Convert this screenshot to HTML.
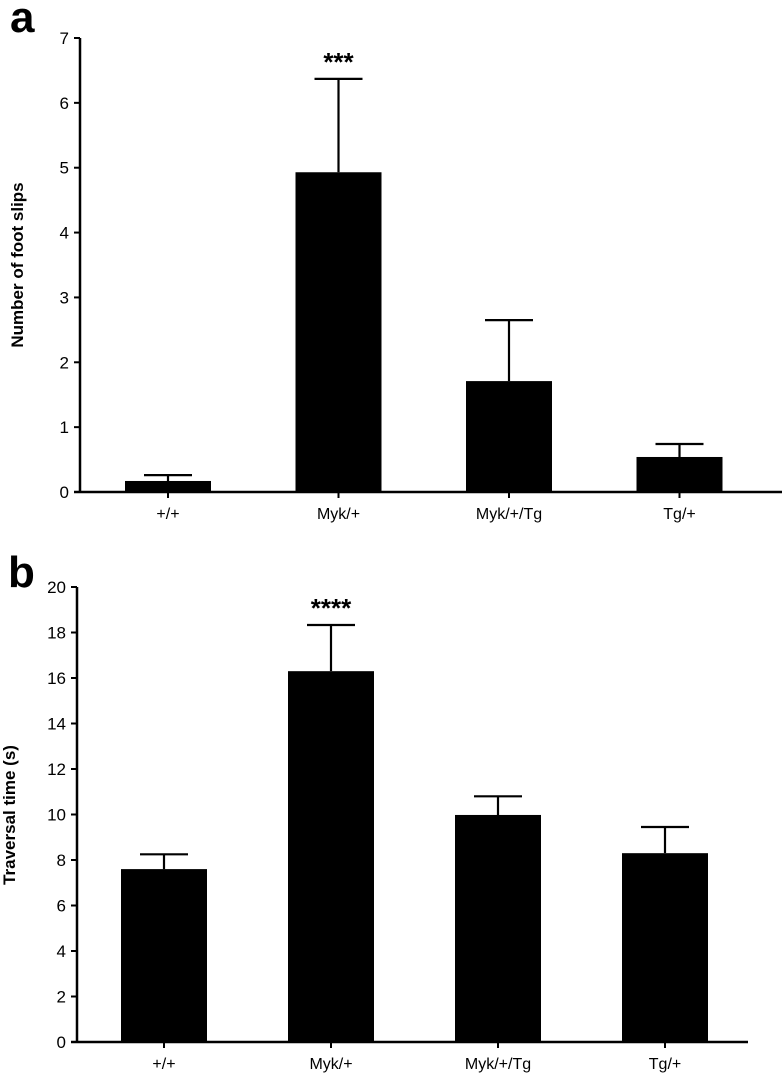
<!DOCTYPE html>
<html><head><meta charset="utf-8"><style>
html,body{margin:0;padding:0;background:#fff;}
svg{display:block;font-family:"Liberation Sans",Arial,sans-serif;}
</style></head><body>
<svg id="fig" width="782" height="1076" viewBox="0 0 782 1076">
<text x="10" y="32" font-size="44" font-weight="bold">a</text>
<text x="8" y="587" font-size="44" font-weight="bold">b</text>
<text transform="translate(23,265) rotate(-90)" text-anchor="middle" font-size="17" font-weight="bold">Number of foot slips</text>
<text transform="translate(15,815) rotate(-90)" text-anchor="middle" font-size="17" font-weight="bold">Traversal time (s)</text>
</svg>
<script>
const categories = ["+/+", "Myk/+", "Myk/+/Tg", "Tg/+"];
const slipsMean = [0.17, 4.93, 1.71, 0.54];
const slipsErr = [0.09, 1.44, 0.94, 0.20];
const slipsTicks = [0,1,2,3,4,5,6,7];
const slipsStars = ["", "***", "", ""];
const timeMean = [7.6, 16.3, 9.98, 8.3];
const timeErr = [0.65, 2.03, 0.82, 1.15];
const timeTicks = [0,2,4,6,8,10,12,14,16,18,20];
const timeStars = ["", "****", "", ""];

const NS = "http://www.w3.org/2000/svg";
const svg = document.getElementById("fig");
function mk(tag, attrs, parent){
  const e = document.createElementNS(NS, tag);
  for (const k in attrs) e.setAttribute(k, attrs[k]);
  (parent||svg).appendChild(e); return e;
}
function panel(p, mean, err, ticks, stars, id){
  const g = mk("g", {});
  
  
  const yMax = ticks[ticks.length-1];
  const y = v => p.y0 - (v / yMax) * (p.y0 - p.yTop);
  const x = i => p.c0 + i * p.step;
  const ax = mk("line", {x1:p.ax, y1:p.yTop, x2:p.ax, y2:p.y0+1, stroke:"#000", "stroke-width":2.5}, g);
  
  
  const xa = mk("line", {x1:p.ax-6, y1:p.y0, x2:p.xEnd, y2:p.y0, stroke:"#000", "stroke-width":2.5}, g);
  
  
  ticks.forEach(t => {
    mk("line", {x1:p.ax-6, y1:y(t), x2:p.ax, y2:y(t), stroke:"#000", "stroke-width":2}, g);
    const tl = mk("text", {x:p.ax-11, y:y(t)+6, "text-anchor":"end", "font-size":17}, g);
    tl.textContent = t;
    
    
  });
  categories.forEach((c, i) => {
    const cx = x(i);
    const bar = mk("rect", {x:cx-p.bw/2, y:y(mean[i]), width:p.bw, height:p.y0-y(mean[i]), fill:"#000"}, g);
    
    
    const top = y(mean[i] + err[i]);
    const eb = mk("path", {d:`M${cx},${y(mean[i])}V${top}M${cx-24},${top}H${cx+24}`, stroke:"#000", "stroke-width":2.2, fill:"none"}, g);
    
    
    mk("line", {x1:cx, y1:p.y0, x2:cx, y2:p.y0+6, stroke:"#000", "stroke-width":2}, g);
    const cl = mk("text", {x:cx, y:p.y0+27, "text-anchor":"middle", "font-size":16}, g);
    cl.textContent = c;
    
    
    if (stars[i]) {
      const st = mk("text", {x:cx, y:top-8, "text-anchor":"middle", "font-size":26, "font-weight":"bold"}, g);
      st.textContent = stars[i];
      
      
    }
  });
}
panel({ax:80, y0:492, yTop:38, xEnd:782, c0:168, step:170.5, bw:86}, slipsMean, slipsErr, slipsTicks, slipsStars, "a");
panel({ax:77, y0:1042, yTop:587, xEnd:748, c0:164, step:167, bw:86}, timeMean, timeErr, timeTicks, timeStars, "b");
</script>
</body></html>
